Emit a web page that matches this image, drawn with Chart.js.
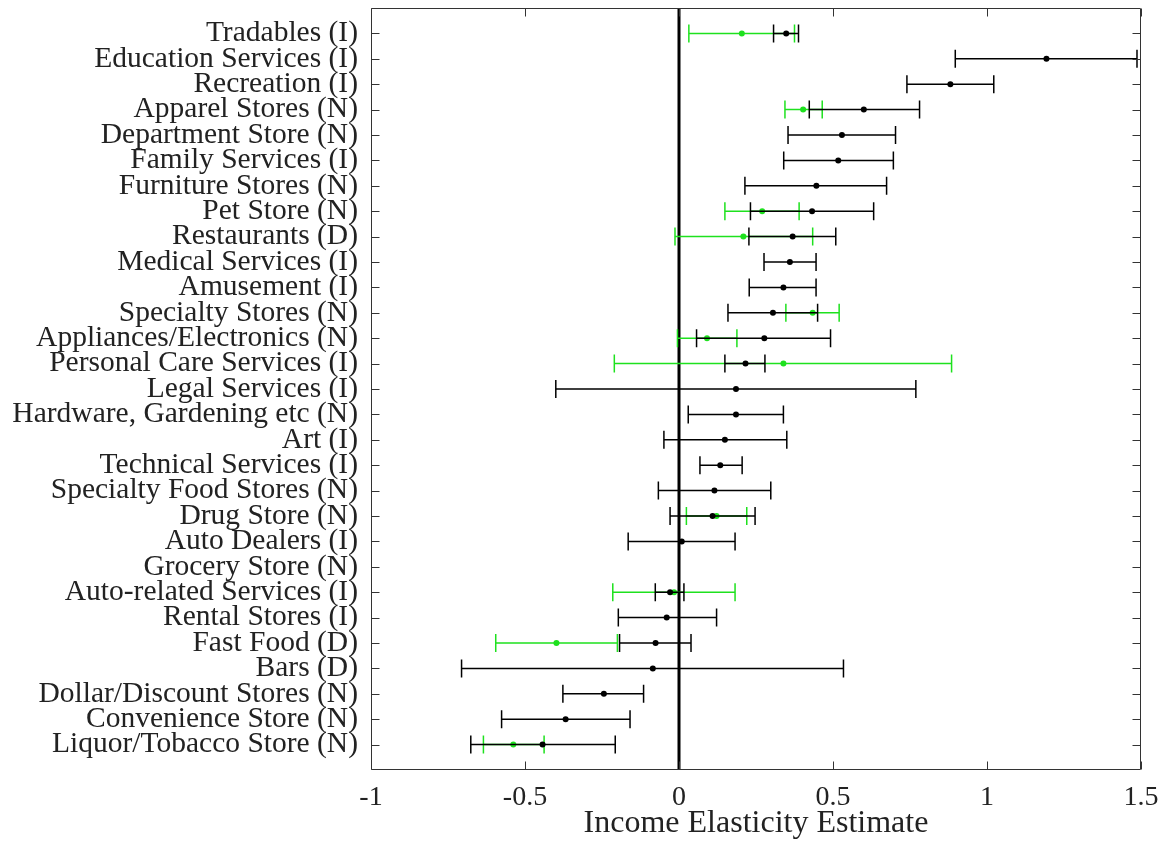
<!DOCTYPE html>
<html>
<head>
<meta charset="utf-8">
<script src="https://cdn.jsdelivr.net/npm/chart.js@4.4.1/dist/chart.umd.min.js"></script>
<style>
  html, body { margin: 0; padding: 0; background: #fff; }
  #wrap { width: 1162px; height: 858px; }
</style>
</head>
<body>
<div id="wrap"><canvas id="c" width="1162" height="858"></canvas></div>
<script>
const categories = [
  'Tradables (I)', 'Education Services (I)', 'Recreation (I)', 'Apparel Stores (N)',
  'Department Store (N)', 'Family Services (I)', 'Furniture Stores (N)', 'Pet Store (N)',
  'Restaurants (D)', 'Medical Services (I)', 'Amusement (I)', 'Specialty Stores (N)',
  'Appliances/Electronics (N)', 'Personal Care Services (I)', 'Legal Services (I)',
  'Hardware, Gardening etc (N)', 'Art (I)', 'Technical Services (I)', 'Specialty Food Stores (N)',
  'Drug Store (N)', 'Auto Dealers (I)', 'Grocery Store (N)', 'Auto-related Services (I)',
  'Rental Stores (I)', 'Fast Food (D)', 'Bars (D)', 'Dollar/Discount Stores (N)',
  'Convenience Store (N)', 'Liquor/Tobacco Store (N)'
];

// Black series: point estimate and interval bounds
const blackEst = [0.348, 1.193, 0.881, 0.600, 0.529, 0.517, 0.446, 0.432, 0.369, 0.360, 0.339, 0.305, 0.277, 0.216, 0.185, 0.185, 0.149, 0.134, 0.115, 0.109, 0.009, null, -0.029, -0.040, -0.076, -0.085, -0.244, -0.368, -0.443];
const blackLo  = [0.307, 0.897, 0.740, 0.423, 0.354, 0.340, 0.214, 0.232, 0.227, 0.276, 0.228, 0.159, 0.057, 0.149, -0.400, 0.030, -0.049, 0.068, -0.067, -0.029, -0.165, null, -0.077, -0.197, -0.193, -0.706, -0.377, -0.576, -0.676];
const blackHi  = [0.388, 1.487, 1.022, 0.781, 0.703, 0.696, 0.674, 0.632, 0.509, 0.445, 0.445, 0.450, 0.492, 0.279, 0.769, 0.339, 0.350, 0.205, 0.298, 0.247, 0.182, null, 0.016, 0.122, 0.039, 0.534, -0.115, -0.159, -0.207];

// Green series
const greenEst = [0.204, null, null, 0.403, null, null, null, 0.270, 0.209, null, null, 0.434, 0.091, 0.339, null, null, null, null, null, 0.122, null, null, -0.016, null, -0.398, null, null, null, -0.538];
const greenLo  = [0.032, null, null, 0.344, null, null, null, 0.149, -0.013, null, null, 0.347, -0.005, -0.210, null, null, null, null, null, 0.024, null, null, -0.215, null, -0.595, null, null, null, -0.635];
const greenHi  = [0.375, null, null, 0.465, null, null, null, 0.390, 0.434, null, null, 0.520, 0.188, 0.885, null, null, null, null, null, 0.220, null, null, 0.182, null, -0.200, null, null, null, -0.438];

const xTicks = [-1, -0.5, 0, 0.5, 1, 1.5];
const xTitle = 'Income Elasticity Estimate';

const BLACK = '#000000';
const GREEN = 'rgb(30,225,30)';
const FONT = "'Liberation Serif', 'Times New Roman', serif";

const errs = [
  { lo: blackLo, hi: blackHi, color: BLACK },
  { lo: greenLo, hi: greenHi, color: GREEN }
];

function toPoints(arr) {
  const out = [];
  arr.forEach((v, i) => { if (v !== null) out.push({ x: v, y: i }); });
  return out;
}

const errorBarPlugin = {
  id: 'errbars',
  beforeDatasetDraw(chart, args) {
    const e = errs[args.index];
    if (!e) return;
    const xs = chart.scales.x, ys = chart.scales.y, ctx = chart.ctx;
    const ca = chart.chartArea;
    ctx.save();
    ctx.beginPath();
    ctx.rect(ca.left, ca.top, ca.right - ca.left, ca.bottom - ca.top);
    ctx.clip();
    ctx.strokeStyle = e.color;
    ctx.lineWidth = 1.5;
    const cap = 9;
    e.lo.forEach((lo, i) => {
      const hi = e.hi[i];
      if (lo === null || hi === null) return;
      const y = ys.getPixelForValue(i);
      const x1 = xs.getPixelForValue(lo);
      const x2 = xs.getPixelForValue(hi);
      ctx.beginPath();
      ctx.moveTo(x1, y); ctx.lineTo(x2, y);
      ctx.moveTo(x1, y - cap); ctx.lineTo(x1, y + cap);
      ctx.moveTo(x2, y - cap); ctx.lineTo(x2, y + cap);
      ctx.stroke();
    });
    ctx.restore();
  }
};

const axesPlugin = {
  id: 'matlabAxes',
  beforeDatasetsDraw(chart) {
    const xs = chart.scales.x, ca = chart.chartArea, ctx = chart.ctx;
    const x0 = Math.round(xs.getPixelForValue(0));
    ctx.save();
    ctx.strokeStyle = '#000';
    ctx.lineWidth = 3;
    ctx.beginPath();
    ctx.moveTo(x0, ca.top); ctx.lineTo(x0, ca.bottom);
    ctx.stroke();
    ctx.restore();
  },
  afterDatasetsDraw(chart) {
    const xs = chart.scales.x, ys = chart.scales.y, ca = chart.chartArea, ctx = chart.ctx;
    ctx.save();
    ctx.strokeStyle = '#333';
    ctx.lineWidth = 1;
    const L = Math.round(ca.left) + 0.5, R = Math.round(ca.right) - 0.5;
    const T = Math.round(ca.top) + 0.5, B = Math.round(ca.bottom) - 0.5;
    ctx.beginPath();
    ctx.rect(L, T, R - L, B - T);
    ctx.stroke();
    const tl = 8;
    ctx.beginPath();
    xTicks.forEach(v => {
      const x = Math.round(xs.getPixelForValue(v)) + 0.5;
      ctx.moveTo(x, B); ctx.lineTo(x, B - tl);
      ctx.moveTo(x, T); ctx.lineTo(x, T + tl);
    });
    categories.forEach((c, i) => {
      const y = Math.round(ys.getPixelForValue(i)) + 0.5;
      ctx.moveTo(L, y); ctx.lineTo(L + tl, y);
      ctx.moveTo(R, y); ctx.lineTo(R - tl, y);
    });
    ctx.stroke();
    ctx.restore();
  }
};

Chart.defaults.font.family = FONT;
Chart.defaults.color = '#222';

new Chart(document.getElementById('c'), {
  type: 'scatter',
  data: {
    datasets: [
      { label: 'black', data: toPoints(blackEst), backgroundColor: BLACK, borderColor: BLACK, pointRadius: 3, pointBorderWidth: 0 },
      { label: 'green', data: toPoints(greenEst), backgroundColor: GREEN, borderColor: GREEN, pointRadius: 3, pointBorderWidth: 0 }
    ]
  },
  options: {
    responsive: false,
    animation: false,
    layout: { padding: { top: 8, right: 21, left: 0, bottom: 0 } },
    plugins: { legend: { display: false }, tooltip: { enabled: false } },
    scales: {
      x: {
        type: 'linear',
        min: -1, max: 1.5,
        afterBuildTicks: (scale) => { scale.ticks = xTicks.map(v => ({ value: v })); },
        afterFit: (scale) => { scale.height = 88; scale.paddingLeft = 0; scale.paddingRight = 0; },
        grid: { display: false, drawTicks: false },
        border: { display: false },
        ticks: {
          font: { size: 28 },
          color: '#222',
          padding: 11,
          maxRotation: 0,
          autoSkip: false,
          callback: (v) => String(Math.round(v * 10) / 10)
        },
        title: {
          display: true,
          text: xTitle,
          font: { size: 32 },
          color: '#222',
          padding: { top: 0, bottom: 15 }
        }
      },
      y: {
        type: 'linear',
        min: -1, max: 29,
        reverse: true,
        afterBuildTicks: (scale) => { scale.ticks = categories.map((c, i) => ({ value: i })); },
        afterFit: (scale) => { scale.width = 371; scale.paddingTop = 0; scale.paddingBottom = 0; },
        grid: { display: false, drawTicks: false },
        border: { display: false },
        ticks: {
          font: { size: 29.5 },
          color: '#222',
          padding: 13,
          autoSkip: false,
          callback: (v) => categories[v] !== undefined ? categories[v] : ''
        }
      }
    }
  },
  plugins: [errorBarPlugin, axesPlugin]
});
</script>
</body>
</html>
